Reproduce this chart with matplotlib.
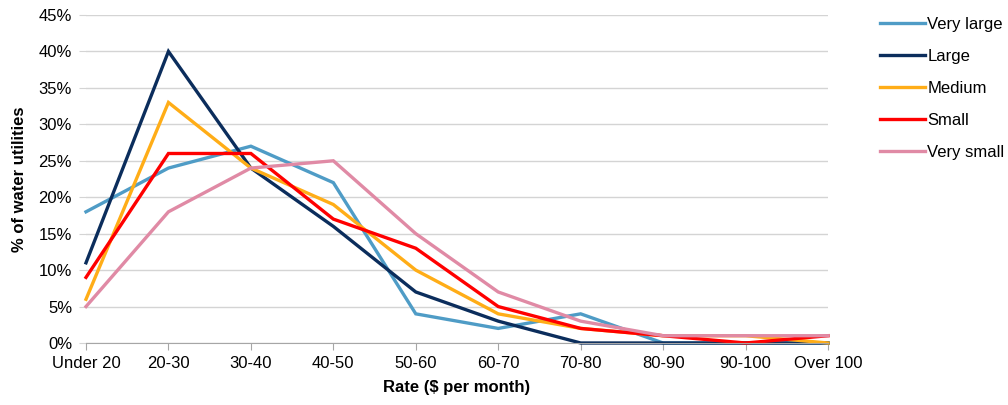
import matplotlib
matplotlib.use("Agg")
import matplotlib.pyplot as plt
from matplotlib.ticker import PercentFormatter

plt.rcParams['font.family'] = ['Liberation Sans', 'DejaVu Sans']

categories = ["Under 20", "20-30", "30-40", "40-50", "50-60", "60-70",
              "70-80", "80-90", "90-100", "Over 100"]

very_large = [18, 24, 27, 22, 4, 2, 4, 0, 0, 0]
large = [11, 40, 24, 16, 7, 3, 0, 0, 0, 0]
medium = [6, 33, 24, 19, 10, 4, 2, 1, 1, 0]
small = [9, 26, 26, 17, 13, 5, 2, 1, 0, 1]
very_small = [5, 18, 24, 25, 15, 7, 3, 1, 1, 1]

series = [
    ("Very large", very_large, "#4f9cc6"),
    ("Large", large, "#0b2d5c"),
    ("Medium", medium, "#ffad17"),
    ("Small", small, "#ff0000"),
    ("Very small", very_small, "#e08aa5"),
]

fig = plt.figure(figsize=(10.08, 4.05), dpi=100)
ax = fig.add_axes([86 / 1008, 1 - 343 / 405, (828 - 86) / 1008, (343 - 15) / 405])

x = list(range(len(categories)))
for name, vals, col in series:
    ax.plot(x, vals, color=col, lw=2.4, label=name, solid_joinstyle='miter',
            clip_on=False)

ax.set_xlim(0, len(categories) - 1)
ax.set_ylim(0, 45)
ax.set_yticks(range(0, 46, 5))
ax.yaxis.set_major_formatter(PercentFormatter(decimals=0))
ax.set_xticks(x)
ax.set_xticklabels(categories)

ax.grid(axis='y', color='#d4d4d4', lw=1)
ax.set_axisbelow(True)
for s in ['top', 'right', 'left']:
    ax.spines[s].set_visible(False)
ax.spines['bottom'].set_color('#a6a6a6')
ax.tick_params(axis='x', length=5, color='#a6a6a6', labelsize=12, pad=4)
ax.tick_params(axis='y', length=5, color='#d4d4d4', labelsize=12, pad=5)

ax.set_xlabel("Rate ($ per month)", fontsize=12, fontweight='bold', labelpad=7)
ax.set_ylabel("% of water utilities", fontsize=12, fontweight='bold', labelpad=8)

ax.legend(loc='upper left', bbox_to_anchor=(873 / 1008, 1 - 10 / 405),
          bbox_transform=fig.transFigure, frameon=False, fontsize=12,
          handlelength=2.7, handletextpad=0.15, labelspacing=1.02,
          borderaxespad=0)

fig.savefig("out.png", dpi=100)
